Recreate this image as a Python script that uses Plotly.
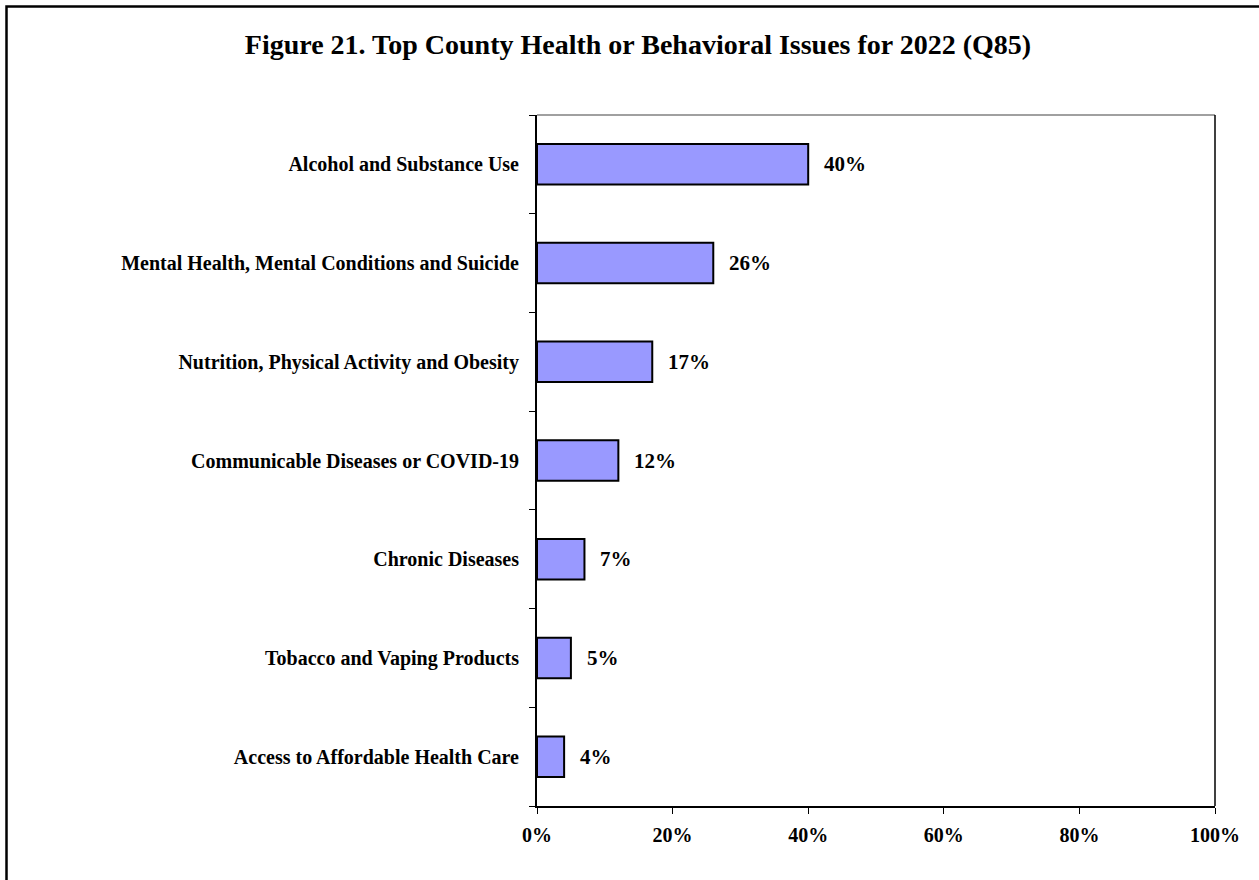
import plotly.graph_objects as go

categories = [
    "Alcohol and Substance Use",
    "Mental Health, Mental Conditions and Suicide",
    "Nutrition, Physical Activity and Obesity",
    "Communicable Diseases or COVID-19",
    "Chronic Diseases",
    "Tobacco and Vaping Products",
    "Access to Affordable Health Care",
]
values = [40, 26, 17, 12, 7, 5, 4]
x_ticks = [0, 20, 40, 60, 80, 100]
x_tick_labels = ["0%", "20%", "40%", "60%", "80%", "100%"]
title_text = "Figure 21. Top County Health or Behavioral Issues for 2022 (Q85)"

FONT = "Liberation Serif"
W, H = 1259, 880
L, R, T, B = 537, 1215, 115, 806

cats_plot = categories[::-1]
vals_plot = values[::-1]

fig = go.Figure()
fig.add_trace(go.Bar(
    y=cats_plot, x=vals_plot, orientation="h",
    marker=dict(color="#9999FF", line=dict(color="black", width=2)),
    width=0.41, hoverinfo="skip",
))

for c, v in zip(cats_plot, vals_plot):
    fig.add_annotation(x=v, y=c, text=f"<b>{v}%</b>", showarrow=False,
                       xanchor="left", xshift=14, yshift=0,
                       font=dict(family=FONT, size=21, color="black"))

pw, ph = R - L, B - T
def px(x): return (x - L) / pw
def py(y): return (B - y) / ph

shapes = [
    # outer border
    dict(type="rect", xref="paper", yref="paper",
         x0=px(6.5), x1=px(1265), y0=py(886), y1=py(6.5),
         line=dict(color="black", width=2.5), fillcolor="rgba(0,0,0,0)", layer="below"),
    # plot frame top/right
    dict(type="line", xref="paper", yref="paper", x0=0, x1=1, y0=1, y1=1,
         line=dict(color="#808080", width=1.5)),
    dict(type="line", xref="paper", yref="paper", x0=1, x1=1, y0=0, y1=1,
         line=dict(color="black", width=1.5)),
]

fig.update_layout(
    width=W, height=H,
    margin=dict(l=L, r=W - R, t=T, b=H - B, pad=0),
    paper_bgcolor="white", plot_bgcolor="white",
    showlegend=False,
    title=dict(text=f"<b>{title_text}</b>", x=638 / W, xanchor="center",
               y=1 - 44 / H, yanchor="middle",
               font=dict(family=FONT, size=28, color="black")),
    shapes=shapes,
    xaxis=dict(range=[0, 100], tickvals=x_ticks, ticktext=[f"<b>{t}</b>" for t in x_tick_labels],
               showgrid=False, zeroline=False, showline=True, linecolor="black", linewidth=2,
               ticks="outside", ticklen=6, tickcolor="black", tickwidth=1,
               ticklabelstandoff=4,
               tickfont=dict(family=FONT, size=20, color="black"), fixedrange=True),
    yaxis=dict(type="category", categoryorder="array", categoryarray=cats_plot,
               tickvals=cats_plot, ticktext=[f"<b>{c}</b>" for c in cats_plot],
               tickson="boundaries", range=[-0.5, 6.5],
               showgrid=False, zeroline=False, showline=True, linecolor="black", linewidth=2,
               ticks="outside", ticklen=6, tickcolor="black", tickwidth=1,
               ticklabelstandoff=12,
               tickfont=dict(family=FONT, size=20, color="black"), fixedrange=True),
)

fig.write_html("out.html")
